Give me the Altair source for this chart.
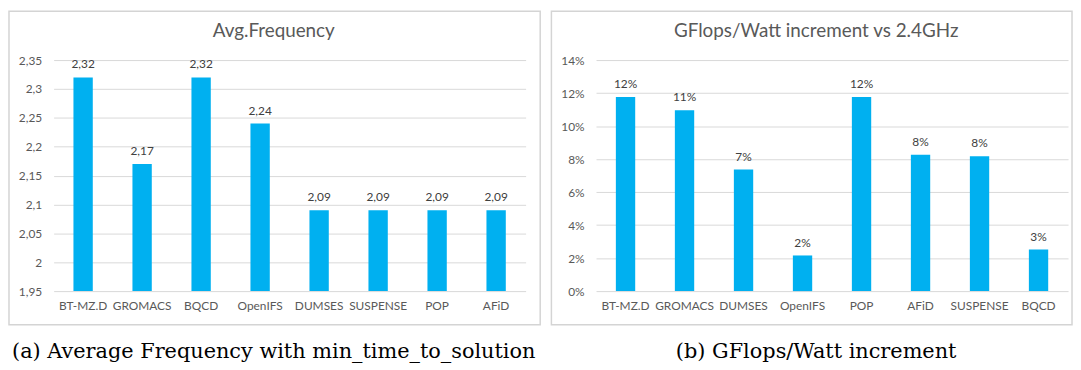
import altair as alt
import pandas as pd

left_categories = ["BT-MZ.D", "GROMACS", "BQCD", "OpenIFS", "DUMSES", "SUSPENSE", "POP", "AFiD"]
left_values = [2.32, 2.17, 2.32, 2.24, 2.09, 2.09, 2.09, 2.09]
left_ticks = [1.95, 2.0, 2.05, 2.1, 2.15, 2.2, 2.25, 2.3, 2.35]

right_categories = ["BT-MZ.D", "GROMACS", "DUMSES", "OpenIFS", "POP", "AFiD", "SUSPENSE", "BQCD"]
right_values = [0.1176, 0.1096, 0.0737, 0.0216, 0.1176, 0.0827, 0.0817, 0.0252]
right_ticks = [0.0, 0.02, 0.04, 0.06, 0.08, 0.10, 0.12, 0.14]

left_title = "Avg.Frequency"
right_title = "GFlops/Watt increment vs 2.4GHz"
left_caption = "(a) Average Frequency with min_time_to_solution"
right_caption = "(b) GFlops/Watt increment"

BAR = "#00b0f0"
GRID = "#d9d9d9"
AXIS_TXT = "#595959"
LBL_TXT = "#404040"
W, H = 476, 233


def panel(cats, vals, ticks, domain, label_expr, text_expr, title, caption, box_right):
    df = pd.DataFrame({"name": cats, "value": vals})
    one = pd.DataFrame({"k": [0]})
    x = alt.X("name:N", sort=cats,
              scale=alt.Scale(paddingInner=0, paddingOuter=0),
              axis=alt.Axis(title=None, labelAngle=0, ticks=False, domain=False,
                            labelFont="Lato", labelFontSize=12, labelColor=AXIS_TXT,
                            labelPadding=10))
    y = alt.Y("value:Q",
              scale=alt.Scale(domain=domain, zero=False, nice=False),
              axis=alt.Axis(values=ticks, title=None, ticks=False, domain=False,
                            grid=True, gridColor=GRID, gridWidth=1,
                            labelFont="Lato", labelFontSize=12, labelColor=AXIS_TXT,
                            labelPadding=12, labelExpr=label_expr))
    bars = alt.Chart(df).mark_bar(size=19.5, color=BAR).encode(
        x=x, y=y, y2=alt.datum(domain[0]))
    labels = alt.Chart(df).transform_calculate(lbl=text_expr).mark_text(
        dy=-9, baseline="alphabetic", align="center", font="Lato", fontSize=12,
        color=LBL_TXT).encode(x=x, y=y, text="lbl:N")
    box = alt.Chart(one).mark_rect(filled=False, stroke="#d4d4d4", strokeWidth=1.5).encode(
        x=alt.value(-45), x2=alt.value(box_right), y=alt.value(-49.3), y2=alt.value(267))
    ttl = alt.Chart(one).mark_text(text=title, font="Lato", fontSize=19, color=AXIS_TXT,
                                   align="center", baseline="alphabetic").encode(
        x=alt.value(222), y=alt.value(-23.3))
    cap = alt.Chart(one).mark_text(text=caption, font="DejaVu Serif", fontSize=21,
                                   color="black", align="center", baseline="alphabetic").encode(
        x=alt.value(222), y=alt.value(300.7))
    return alt.layer(box, bars, labels, ttl, cap).properties(width=W, height=H)


left = panel(left_categories, left_values, left_ticks, [1.95, 2.35],
             "replace(format(datum.value, '.2~f'), '.', ',')",
             "replace(format(datum.value, '.2f'), '.', ',')",
             left_title, left_caption, 490.7)
right = panel(right_categories, right_values, right_ticks, [0, 0.14],
              "format(datum.value, '.0%')",
              "format(datum.value, '.0%')",
              right_title, right_caption, 480)

chart = alt.hconcat(left, right, spacing=9).properties(padding=0).configure_view(stroke=None)

chart.save("out.html", embed_options={"renderer": "svg", "actions": False})
